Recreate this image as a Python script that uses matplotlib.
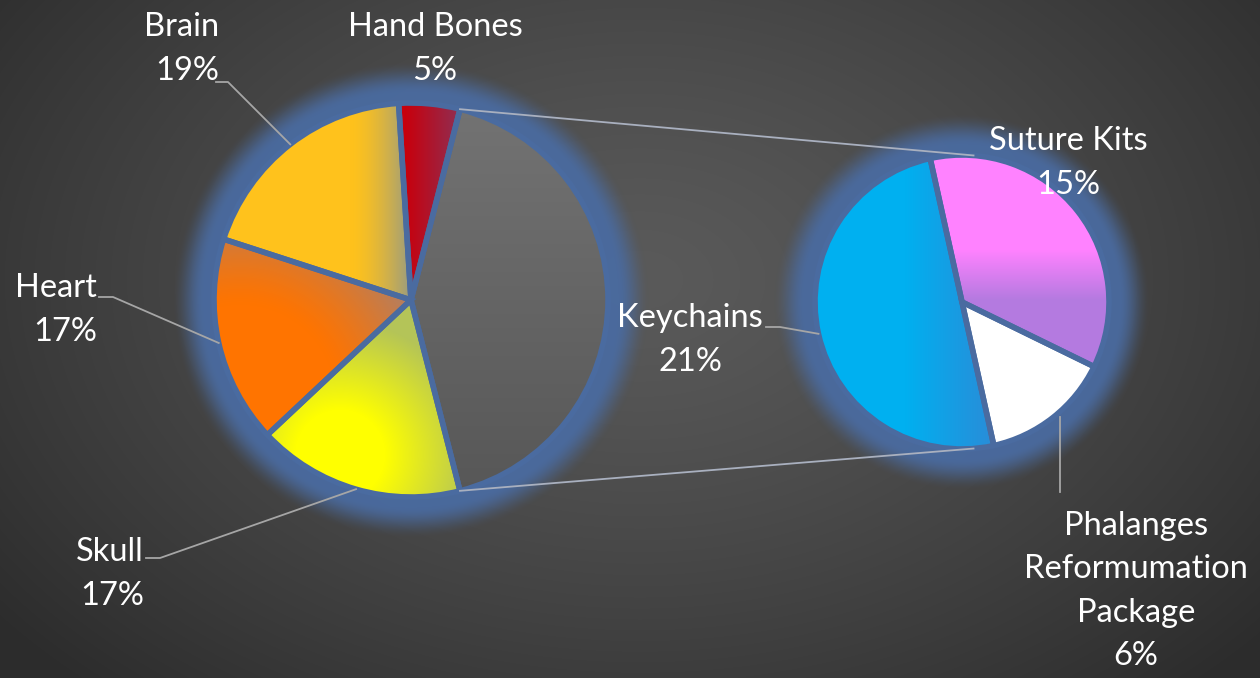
import numpy as np
import matplotlib
matplotlib.use("Agg")
import matplotlib.pyplot as plt
from matplotlib.colors import to_rgb
from matplotlib.patches import Wedge

W, H = 1260, 678

# ---- data -------------------------------------------------------------
main_labels = ["Hand Bones", "Brain", "Heart", "Skull"]
main_values = [5, 19, 17, 17]
sub_labels = ["Keychains", "Suture Kits", "Phalanges\nReformumation\nPackage"]
sub_values = [21, 15, 6]
other_value = sum(sub_values)

# ---- figure -------------------------------------------------------------
fig = plt.figure(figsize=(12.6, 6.78), dpi=100)
ax = fig.add_axes([0, 0, 1, 1])

def py(y):
    """Convert a top-down pixel row to the axes' y coordinate."""
    return H - y

def mix(c0, c1, t):
    c0 = np.array(to_rgb(c0)); c1 = np.array(to_rgb(c1))
    t = np.clip(t, 0, 1)[..., None]
    return c0 * (1 - t) + c1 * t

# background: soft radial grey (rows run top-down)
yy, xx = np.mgrid[0:H, 0:W] + 0.5
r_bg = np.hypot((xx - 640) / 820, (yy - 280) / 560)
bg = mix("#5a5a5a", "#2c2c2c", r_bg ** 1.3)
ax.imshow(bg, extent=[0, W, 0, H], origin="upper", zorder=0)

main_c = (411, py(300)); main_r = 197
sub_c = (962, py(302)); sub_r = 147

# blue halo around both pies
GLOW = "#4a6ba0"
alpha = np.zeros((H, W))
for (cx, cy), r in [(main_c, main_r), (sub_c, sub_r)]:
    d = np.hypot(xx - cx, (H - yy) - cy) - r
    t = np.clip((d - 10) / 32, 0, 1)
    a = 0.95 * (1 - t * t * (3 - 2 * t))
    alpha = np.maximum(alpha, a)
glow = np.zeros((H, W, 4))
glow[..., :3] = to_rgb(GLOW)
glow[..., 3] = alpha
ax.imshow(glow, extent=[0, W, 0, H], origin="upper", zorder=0.5)

# ---- pies -------------------------------------------------------------
main_vals = [other_value] + main_values
main_start = -other_value / 100 * 360 / 2
mw, _ = ax.pie(main_vals, center=main_c, radius=main_r, startangle=main_start,
               counterclock=True, colors=["#646464", "#b0102a", "#ffc000", "#ff7000", "#ffff00"],
               wedgeprops=dict(linewidth=0))

sub_order = [0, 2, 1]  # Keychains, Phalanges, Suture Kits counter-clockwise
sub_vals = [sub_values[i] for i in sub_order]
sw, _ = ax.pie(sub_vals, center=sub_c, radius=sub_r, startangle=102.5,
               counterclock=True, colors=["#00b0f0", "#ffffff", "#ff80ff"],
               wedgeprops=dict(linewidth=0))

def lin(X, Y, p0, p1):
    p0 = np.array([p0[0], py(p0[1])]); p1 = np.array([p1[0], py(p1[1])])
    v = p1 - p0
    return ((X - p0[0]) * v[0] + (Y - p0[1]) * v[1]) / (v @ v)

def rad(X, Y, c, r0, r1):
    d = np.hypot(X - c[0], Y - py(c[1]))
    return (d - r0) / (r1 - r0)

shaders = {
    "gray": lambda X, Y: mix("#737373", "#575757", lin(X, Y, (0, 103), (0, 497))),
    "hand": lambda X, Y: mix("#c8000c", "#952a4c", lin(X, Y, (405, 0), (455, 0))),
    "brain": lambda X, Y: mix("#ffc21c", "#9a9c80", np.clip(lin(X, Y, (350, 0), (410, 0)), 0, 1) ** 1.6),
    "heart": lambda X, Y: mix("#ff7400", "#a88070", np.clip(rad(X, Y, (240, 400), 95, 205), 0, 1) ** 1.3),
    "skull": lambda X, Y: mix("#ffff00", "#b4c458", rad(X, Y, (340, 455), 45, 135)),
    "key": lambda X, Y: mix("#00b0f0", "#2a8cd8", lin(X, Y, (905, 0), (995, 0))),
    "phal": lambda X, Y: mix("#ffffff", "#ffffff", X * 0),
    "sut": lambda X, Y: mix("#ff82ff", "#b47ae0", lin(X, Y, (0, 250), (0, 300))),
}

def shade(wedge, fn):
    cx, cy = wedge.center; r = wedge.r
    x0, x1, y0, y1 = cx - r, cx + r, cy - r, cy + r
    X, Y = np.meshgrid(np.linspace(x0, x1, int(2 * r)), np.linspace(y0, y1, int(2 * r)))
    im = ax.imshow(fn(X, Y), extent=[x0, x1, y0, y1], origin="lower", zorder=1.5,
                   interpolation="bilinear")
    im.set_clip_path(wedge)

for w, key in zip(mw, ["gray", "hand", "brain", "heart", "skull"]):
    shade(w, shaders[key])
for w, key in zip(sw, ["key", "phal", "sut"]):
    shade(w, shaders[key])

# slice separators
for w in list(mw) + list(sw):
    ax.add_patch(Wedge(w.center, w.r, w.theta1, w.theta2, fill=False,
                       ec=GLOW, lw=4, zorder=2))

def edge_point(center, r, ang):
    a = np.deg2rad(ang)
    return center[0] + r * np.cos(a), center[1] + r * np.sin(a)

# connectors from the "other" slice to the secondary pie
gray = mw[0]
for ga, sa in [(gray.theta2, 85.5), (gray.theta1, -85.5)]:
    p0 = edge_point(main_c, main_r, ga)
    p1 = edge_point(sub_c, sub_r, sa)
    ax.plot([p0[0], p1[0]], [p0[1], p1[1]], color="#a9b0bf", lw=1.3, zorder=2.5)

# ---- labels -----------------------------------------------------------
font = dict(family="Lato", fontsize=23.5, color="white", linespacing=1.55, zorder=4)
LEADER = "#a6a6a6"

def mid(w):
    return (w.theta1 + w.theta2) / 2

main_layout = {
    "Hand Bones": dict(xy=(435, 49), ha="center", leader=None),
    "Brain": dict(xy=(219, 49), ha="right", leader=[(216, 82), (228, 82)]),
    "Heart": dict(xy=(97, 310), ha="right", leader=[(99, 297), (113, 297)]),
    "Skull": dict(xy=(144, 574), ha="right", leader=[(146, 558), (160, 558)]),
}
for name, val, w in zip(main_labels, main_values, mw[1:]):
    lay = main_layout[name]
    ax.text(lay["xy"][0], py(lay["xy"][1]), f"{name}\n{val}%", ha=lay["ha"], va="center",
            multialignment=lay["ha"], **font)
    if lay["leader"]:
        pts = [(x, py(y)) for x, y in lay["leader"]] + [edge_point(main_c, main_r, mid(w))]
        ax.plot(*zip(*pts), color=LEADER, lw=1.3, zorder=2.5)

sub_layout = {
    "Keychains": dict(xy=(690, 340), leader=[(766, 327), (780, 327)]),
    "Suture Kits": dict(xy=(1068, 163), leader=None),
    "Phalanges\nReformumation\nPackage": dict(xy=(1136, 591), leader=[(1060, 492)]),
}
sub_wedges = {sub_order[i]: sw[i] for i in range(3)}
for i, (name, val) in enumerate(zip(sub_labels, sub_values)):
    lay = sub_layout[name]
    ax.text(lay["xy"][0], py(lay["xy"][1]), f"{name}\n{val}%", ha="center", va="center",
            multialignment="center", **font)
    if lay["leader"]:
        w = sub_wedges[i]
        pts = [(x, py(y)) for x, y in lay["leader"]]
        ep = edge_point(sub_c, sub_r, mid(w))
        if len(pts) == 1:
            pts = [pts[0], (pts[0][0], ep[1])]
        else:
            pts.append(ep)
        ax.plot(*zip(*pts), color=LEADER, lw=1.3, zorder=2.5)

ax.set_xlim(0, W)
ax.set_ylim(0, H)
ax.set_aspect("auto")
ax.axis("off")
fig.savefig("out.png", dpi=100)
